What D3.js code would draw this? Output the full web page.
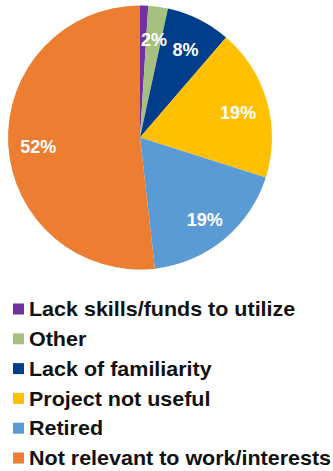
<!DOCTYPE html>
<html lang="en">
<head>
  <meta charset="UTF-8">
  <title>Reasons for not using</title>
  <script src="https://d3js.org/d3.v7.min.js"></script>
  <style>
    html, body {
      margin: 0;
      padding: 0;
      background: #fff;
      overflow: hidden;
    }
    svg {
      display: block;
      font-family: "Liberation Sans", Arial, sans-serif;
    }
  </style>
</head>
<body>
<svg width="333" height="471"></svg>

<script>
  const categories = [
    "Lack skills/funds to utilize",
    "Other",
    "Lack of familiarity",
    "Project not useful",
    "Retired",
    "Not relevant to work/interests"
  ];
  const values = [1.0, 2.4, 7.9, 18.6, 18.3, 51.8];
  const valueLabels = ["", "2%", "8%", "19%", "19%", "52%"];
  const colors = ["#7030a0", "#a6c17f", "#003e8c", "#ffc000", "#5b9bd5", "#ed7d31"];

  const svg = d3.select("svg");
  const cx = 140, cy = 137.5, radius = 132;

  const pie = d3.pie().sort(null).value(d => d.value);
  const arcs = pie(categories.map((c, i) => ({name: c, value: values[i], label: valueLabels[i], color: colors[i]})));

  const arc = d3.arc().innerRadius(0).outerRadius(radius);
  const labelArc = d3.arc().innerRadius(102).outerRadius(102);

  const g = svg.append("g").attr("transform", `translate(${cx},${cy})`);

  g.selectAll("path")
    .data(arcs)
    .join("path")
    .attr("d", arc)
    .attr("fill", d => d.data.color);

  g.selectAll("text")
    .data(arcs)
    .join("text")
    .attr("transform", d => {
      const [x, y] = labelArc.centroid(d);
      return `translate(${x},${y + 3})`;
    })
    .attr("text-anchor", "middle")
    .attr("dy", "0.36em")
    .attr("fill", "#fff")
    .attr("font-weight", "bold")
    .attr("font-size", "18px")
    .text(d => d.data.label);

  // legend
  const legendY = d3.scalePoint()
    .domain(categories)
    .range([309, 458]);

  const legend = svg.append("g")
    .selectAll("g")
    .data(arcs)
    .join("g")
    .attr("transform", d => `translate(13,${legendY(d.data.name)})`);

  legend.append("rect")
    .attr("x", 0)
    .attr("y", -5.5)
    .attr("width", 11)
    .attr("height", 11)
    .attr("fill", d => d.data.color);

  legend.append("text")
    .attr("transform", "translate(16,0) scale(1.075,1)")
    .attr("dy", "0.36em")
    .attr("font-weight", "bold")
    .attr("font-size", "20px")
    .attr("fill", "#111")
    .text(d => d.data.name);
</script>
</body>
</html>
